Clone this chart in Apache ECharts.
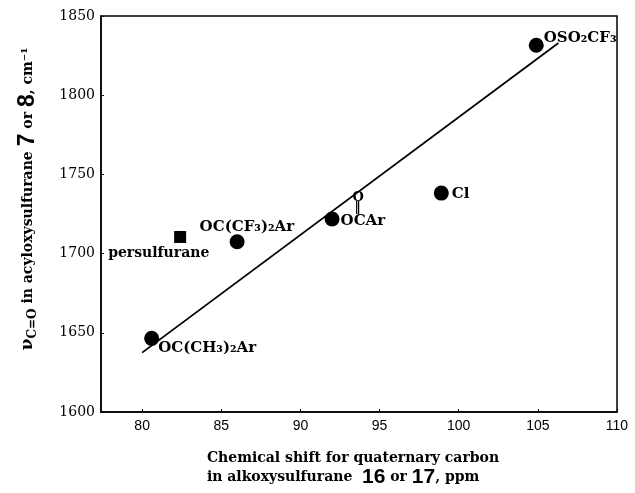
<!DOCTYPE html>
<html>
<head>
<meta charset="utf-8">
<script src="https://cdn.jsdelivr.net/npm/echarts@6/dist/echarts.min.js"></script>
<style>
    html, body { margin: 0; padding: 0; background: #fff; }
    #chart { width: 635px; height: 493px; }
</style>
</head>
<body>
<div id="chart"></div>
<script>
'use strict';

// data
var names = ['OC(CH₃)₂Ar', 'OC(CF₃)₂Ar', 'OCAr', 'Cl', 'OSO₂CF₃'];
var shiftX = [80.6, 86.0, 92.0, 98.9, 104.9];
var freqY = [1646.5, 1707.5, 1721.8, 1738.2, 1831.5];

var persName = 'persulfurane';
var persX = [82.4];
var persY = [1710.5];

var fitX = [80.0, 106.3];
var fitY = [1637.5, 1833.0];

var xTicks = [80, 85, 90, 95, 100, 105, 110];

(function() {
    var chart = echarts.init(document.getElementById('chart'));
    var serif = 'DejaVu Serif';

    // label offsets, one per point
    var labelPos = [[14, 17], [-30, -7], [16, -19], [18, 9], [15, 0]];

    var pts = [];
    for (var i = 0; i < names.length; i++) {
        var lab = {
            show: true,
            position: labelPos[i],
            align: 'left',
            verticalAlign: i === 2 ? 'top' : 'middle',
            fontFamily: serif,
            fontWeight: 'bold',
            fontSize: 15,
            color: '#000',
            formatter: names[i]
        };
        if (i === 2) {
            lab.formatter = '{o|O}\n{b|‖}\n{t|OCAr}';
            lab.rich = {
                o: { align: 'left', padding: [0, 0, 0, 12], fontFamily: serif, fontWeight: 'bold', fontSize: 13, lineHeight: 11, color: '#000' },
                b: { align: 'left', padding: [0, 0, 0, 14], fontFamily: serif, fontSize: 12, lineHeight: 9, color: '#000' },
                t: { align: 'left', fontFamily: serif, fontWeight: 'bold', fontSize: 15, lineHeight: 17, color: '#000' }
            };
        }
        pts.push({ name: names[i], value: [shiftX[i], freqY[i]], label: lab });
    }

    var fit = [];
    for (var j = 0; j < fitX.length; j++) {
        fit.push([fitX[j], fitY[j]]);
    }

    var option = {
        backgroundColor: '#fff',
        animation: false,
        grid: {
            left: 101, right: 18, top: 16, bottom: 81,
            show: true, borderColor: '#000', borderWidth: 1.5
        },
        xAxis: {
            type: 'value',
            min: 77.4,
            max: 110,
            splitLine: { show: false },
            axisLine: { lineStyle: { color: '#000', width: 1.5 } },
            axisTick: { inside: true, length: 3, customValues: xTicks, lineStyle: { color: '#000' } },
            axisLabel: {
                customValues: xTicks, margin: 7,
                fontFamily: 'Liberation Sans', fontSize: 14, color: '#000'
            },
            name: '{a|Chemical shift for quaternary carbon}\n{a|in alkoxysulfurane  }{n|16}{a| or }{n|17}{a|, ppm}',
            nameLocation: 'middle',
            nameGap: 37,
            nameTextStyle: {
                padding: [0, 12, 0, 0],
                rich: {
                    a: { align: 'left', fontFamily: serif, fontWeight: 'bold', fontSize: 14, color: '#000', lineHeight: 19 },
                    n: { align: 'left', fontFamily: 'Liberation Sans', fontWeight: 'bold', fontSize: 21, color: '#000', lineHeight: 19 }
                }
            }
        },
        yAxis: {
            type: 'value',
            min: 1600,
            max: 1850,
            interval: 50,
            splitLine: { show: false },
            axisLine: { lineStyle: { color: '#000', width: 1.5 } },
            axisTick: { inside: true, length: 3, lineStyle: { color: '#000' } },
            axisLabel: {
                margin: 6, fontFamily: serif, fontSize: 14, color: '#000',
                formatter: function(v) { return String(v); }
            },
            name: '{nu|ν}{sub|C=O}{a| in acyloxysulfurane }{n|7}{a| or }{n|8}{a|, cm⁻¹}',
            nameLocation: 'middle',
            nameGap: 62,
            nameTextStyle: {
                padding: [0, 0, 0, 30],
                rich: {
                    nu: { fontFamily: serif, fontWeight: 'bold', fontSize: 17, color: '#000', lineHeight: 22 },
                    sub: { fontFamily: serif, fontWeight: 'bold', fontSize: 12, color: '#000', verticalAlign: 'bottom', lineHeight: 12 },
                    a: { fontFamily: serif, fontWeight: 'bold', fontSize: 14, color: '#000', lineHeight: 22 },
                    n: { fontFamily: 'Liberation Sans', fontWeight: 'bold', fontSize: 23, color: '#000', lineHeight: 22 }
                }
            }
        },
        series: [
            {
                type: 'line',
                data: fit,
                symbol: 'none',
                lineStyle: { color: '#000', width: 1.8 },
                z: 1
            },
            {
                type: 'scatter',
                data: pts,
                symbol: 'circle',
                symbolSize: 15,
                itemStyle: { color: '#000', opacity: 1 },
                emphasis: { disabled: true },
                z: 2
            },
            {
                type: 'scatter',
                data: [{
                    name: persName,
                    value: [persX[0], persY[0]],
                    label: {
                        show: true, position: [-66, 22], align: 'left', verticalAlign: 'middle',
                        fontFamily: serif, fontWeight: 'bold', fontSize: 14, color: '#000', formatter: persName
                    }
                }],
                symbol: 'rect',
                symbolSize: 12,
                itemStyle: { color: '#000', opacity: 1 },
                emphasis: { disabled: true },
                z: 2
            }
        ]
    };

    chart.setOption(option);
})();
</script>
</body>
</html>
